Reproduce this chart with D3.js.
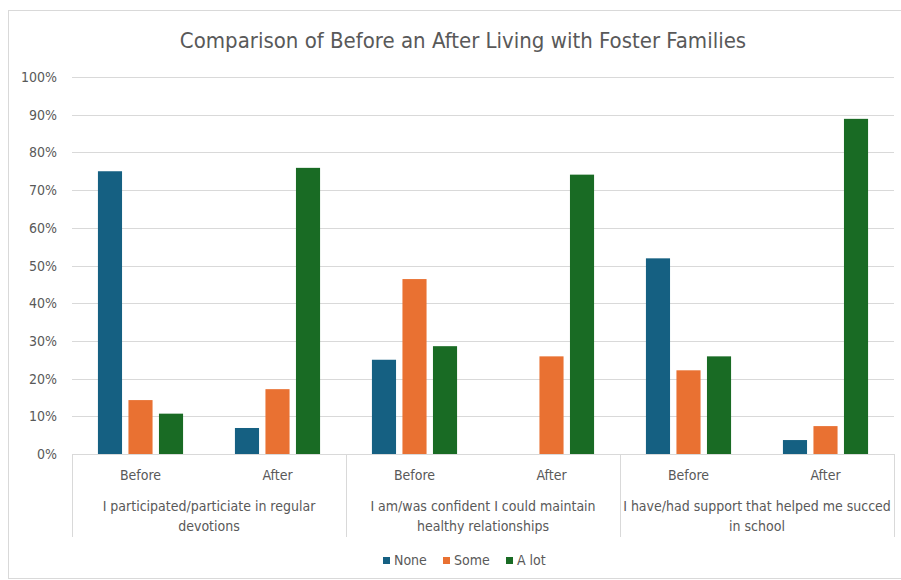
<!DOCTYPE html>
<html>
<head>
<meta charset="utf-8">
<script src="https://cdn.jsdelivr.net/npm/d3@7"></script>
<style>
  body { margin: 0; background: #fff; }
  svg text { font-family: "Liberation Sans Narrow", "Arial Narrow", "DejaVu Sans Condensed", sans-serif; fill: #595959; }
</style>
</head>
<body>
<div id="vis"></div>
<script>
const FRAME_WIDTH = 901;
const FRAME_HEIGHT = 580;
const MARGINS = {left: 72, right: 7, top: 77, bottom: 126};

// data
const questions = [
  ["I participated/particiate in regular", "devotions"],
  ["I am/was confident I could maintain", "healthy relationships"],
  ["I have/had support that helped me succed", "in school"]
];
const periods = ["Before", "After"];
const series = ["None", "Some", "A lot"];
const colors = ["#156082", "#E97132", "#196B24"];
const noneVals = [0.75, 0.069, 0.25, 0, 0.519, 0.037];
const someVals = [0.143, 0.172, 0.464, 0.259, 0.222, 0.074];
const alotVals = [0.107, 0.759, 0.286, 0.741, 0.259, 0.889];
const yTicks = [0, 0.1, 0.2, 0.3, 0.4, 0.5, 0.6, 0.7, 0.8, 0.9, 1];

const VIS_WIDTH = FRAME_WIDTH - MARGINS.left - MARGINS.right;
const VIS_HEIGHT = FRAME_HEIGHT - MARGINS.top - MARGINS.bottom;

// flat list of the six Before/After slots
const slots = [];
questions.forEach((q, qi) => {
  periods.forEach((p, pi) => slots.push({q: qi, p: p, key: qi + "-" + p}));
});
const allVals = [noneVals, someVals, alotVals];

const svg = d3.select("#vis")
  .append("svg")
    .attr("width", FRAME_WIDTH)
    .attr("height", FRAME_HEIGHT);

// outer chart border
svg.append("rect")
  .attr("x", 8.5).attr("y", 10.5)
  .attr("width", FRAME_WIDTH + 10).attr("height", 568)
  .attr("fill", "none").attr("stroke", "#d9d9d9");

svg.append("text")
  .attr("x", 463).attr("y", 48)
  .attr("text-anchor", "middle")
  .attr("font-size", "22px")
  .text("Comparison of Before an After Living with Foster Families");

const g = svg.append("g")
  .attr("transform", "translate(" + MARGINS.left + "," + MARGINS.top + ")");

const Y_SCALE = d3.scaleLinear().domain([0, 1]).range([VIS_HEIGHT, 0]);
const Q_SCALE = d3.scaleBand().domain(d3.range(questions.length)).range([0, VIS_WIDTH]);
const X_SCALE = d3.scaleBand().domain(slots.map(d => d.key)).range([0, VIS_WIDTH]);
const S_SCALE = d3.scaleBand().domain(series).range([0, X_SCALE.bandwidth()])
  .paddingInner(0.21).paddingOuter(0.85);

// gridlines + y labels
g.selectAll(".grid")
  .data(yTicks.slice(1))
  .enter().append("line")
    .attr("x1", 0).attr("x2", VIS_WIDTH)
    .attr("y1", d => Math.round(Y_SCALE(d)) + 0.5)
    .attr("y2", d => Math.round(Y_SCALE(d)) + 0.5)
    .attr("stroke", "#d9d9d9");

g.selectAll(".ylab")
  .data(yTicks)
  .enter().append("text")
    .attr("x", -15)
    .attr("y", d => Y_SCALE(d) + 5)
    .attr("text-anchor", "end")
    .attr("font-size", "14px")
    .text(d3.format(".0%"));

// bars
series.forEach((s, si) => {
  g.selectAll(".bar" + si)
    .data(slots)
    .enter().append("rect")
      .attr("x", (d) => X_SCALE(d.key) + S_SCALE(s))
      .attr("y", (d, i) => Y_SCALE(allVals[si][i]))
      .attr("width", S_SCALE.bandwidth())
      .attr("height", (d, i) => VIS_HEIGHT - Y_SCALE(allVals[si][i]))
      .attr("fill", colors[si]);
});

// category axis
g.append("line")
  .attr("x1", 0).attr("x2", VIS_WIDTH)
  .attr("y1", VIS_HEIGHT + 0.5).attr("y2", VIS_HEIGHT + 0.5)
  .attr("stroke", "#d9d9d9");

g.selectAll(".qdiv")
  .data(d3.range(questions.length + 1))
  .enter().append("line")
    .attr("x1", d => Math.round(d * Q_SCALE.step()) + 0.5)
    .attr("x2", d => Math.round(d * Q_SCALE.step()) + 0.5)
    .attr("y1", VIS_HEIGHT).attr("y2", VIS_HEIGHT + 83)
    .attr("stroke", "#d9d9d9");

g.selectAll(".plab")
  .data(slots)
  .enter().append("text")
    .attr("x", d => X_SCALE(d.key) + X_SCALE.bandwidth() / 2)
    .attr("y", VIS_HEIGHT + 26)
    .attr("text-anchor", "middle")
    .attr("font-size", "14px")
    .text(d => d.p);

questions.forEach((q, qi) => {
  g.append("text")
    .attr("x", Q_SCALE(qi) + Q_SCALE.bandwidth() / 2)
    .attr("y", VIS_HEIGHT + 57)
    .attr("text-anchor", "middle")
    .attr("font-size", "14px")
    .selectAll("tspan")
    .data(q)
    .enter().append("tspan")
      .attr("x", Q_SCALE(qi) + Q_SCALE.bandwidth() / 2)
      .attr("dy", (d, i) => i === 0 ? 0 : 20)
      .text(d => d);
});

// legend
const legendX = [383, 443, 506];
const legend = svg.selectAll(".leg")
  .data(series)
  .enter().append("g")
    .attr("transform", (d, i) => "translate(" + legendX[i] + ",557)");
legend.append("rect")
  .attr("width", 7).attr("height", 7)
  .attr("fill", (d, i) => colors[i]);
legend.append("text")
  .attr("x", 11).attr("y", 8)
  .attr("font-size", "14px")
  .text(d => d);
</script>
</body>
</html>
